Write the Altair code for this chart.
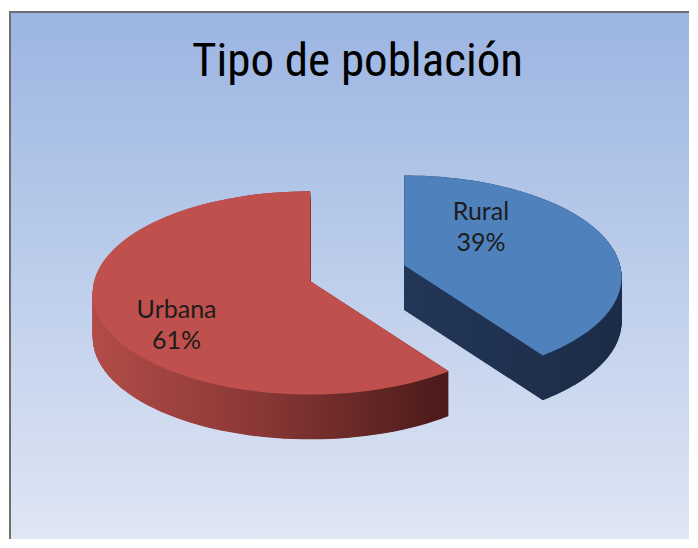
import altair as alt
import pandas as pd

# ---------------- data ----------------
tipos = ["Rural", "Urbana"]
porcentajes = [39, 61]
orden = [0, 1]
titulo = "Tipo de población"

# ---------------- layout / style constants ----------------
W, H = 682, 532            # whole chart (page is 698x548 with 8px margin)
PAD_TOP = 2
VW, VH = W, H - PAD_TOP    # plot (view) size, 1 scale unit = 1 px
CX, CY = 302, 283          # centre of the pie ellipse (view px)
RX, RY = 218, 102          # ellipse radii
APEX = 12                  # perspective: apex sits above ellipse centre
DEPTH = 45                 # thickness of the 3-D pie
N = 90                     # arc segments per slice
EXPLOSION = {"Rural": 0.46, "Urbana": 0.0}
LABEL_R = 0.653
LABEL_NUDGE = {"Rural": (-57, -35), "Urbana": (0, 3)}
TOP_COLOR = {"Rural": "#4f81bd", "Urbana": "#c0504d"}
SIDE_COLOR = {
    "Rural": alt.LinearGradient(
        gradient="linear", x1=0, x2=1, y1=0, y2=0,
        stops=[alt.GradientStop(color="#223657", offset=0),
               alt.GradientStop(color="#1c2c47", offset=1)]),
    "Urbana": alt.LinearGradient(
        gradient="linear", x1=0, x2=1, y1=0, y2=0,
        stops=[alt.GradientStop(color="#b24c48", offset=0),
               alt.GradientStop(color="#863634", offset=0.5),
               alt.GradientStop(color="#4a1a19", offset=1)]),
}
BG = alt.LinearGradient(
    gradient="linear", x1=0, x2=0, y1=0, y2=1,
    stops=[alt.GradientStop(color="#9bb5e2", offset=0),
           alt.GradientStop(color="#dfe6f4", offset=1)])
BORDER = "#6f6f6f"

datos = pd.DataFrame({"tipo": tipos, "valor": porcentajes, "orden": orden})

xs = alt.Scale(domain=[0, VW], nice=False, zero=False)
ys = alt.Scale(domain=[0, VH], nice=False, zero=False, reverse=True)


def por_tipo(mapping, default="0"):
    expr = default
    for k, v in mapping.items():
        expr = f"datum.tipo == '{k}' ? {v} : ({expr})"
    return expr


base = (
    alt.Chart(datos)
    .transform_joinaggregate(total="sum(valor)")
    .transform_window(acum="sum(valor)", sort=[alt.SortField("orden", order="ascending")])
    .transform_calculate(a0="2*PI*(datum.acum - datum.valor)/datum.total")
    .transform_calculate(a1="2*PI*datum.acum/datum.total")
    .transform_calculate(am="(datum.a0 + datum.a1)/2")
    .transform_calculate(expl=por_tipo(EXPLOSION))
    .transform_calculate(cx=f"{CX} + datum.expl*{RX}*sin(datum.am)")
    .transform_calculate(cy=f"{CY} - datum.expl*{RY}*cos(datum.am)")
)

poly = (
    base
    .transform_calculate(k=f"sequence(-1, {N + 1})")
    .transform_flatten(["k"])
    .transform_calculate(th=f"datum.a0 + (datum.a1 - datum.a0)*max(datum.k, 0)/{N}")
    .transform_calculate(px=f"datum.k < 0 ? datum.cx : datum.cx + {RX}*sin(datum.th)")
    .transform_calculate(py=f"datum.k < 0 ? datum.cy - {APEX} : datum.cy - {RY}*cos(datum.th)")
)

layers = []

# background and frame
one = alt.Data(values=[{}])
layers.append(
    alt.Chart(one).mark_rect(fill=BG).encode(
        x=alt.value(0), x2=alt.value("width"), y=alt.value(0), y2=alt.value("height"))
)
layers.append(
    alt.Chart(one).mark_rule(color=BORDER, strokeWidth=2).encode(
        x=alt.value(1), y=alt.value(0), y2=alt.value("height"))
)
layers.append(
    alt.Chart(one).mark_rule(color=BORDER, strokeWidth=2).encode(
        x=alt.value(0), x2=alt.value("width"), y=alt.value(1))
)

# 3-D sides (stack of shifted copies of each slice)
for t in tipos:
    layers.append(
        poly.transform_filter(f"datum.tipo == '{t}'")
        .transform_calculate(dz=f"sequence(0, {DEPTH + 0.01}, 0.5)")
        .transform_flatten(["dz"])
        .transform_calculate(pyd="datum.py + datum.dz")
        .mark_line(fill=SIDE_COLOR[t], stroke="transparent", strokeWidth=0)
        .encode(
            x=alt.X("px:Q", scale=xs, axis=None),
            y=alt.Y("pyd:Q", scale=ys, axis=None),
            order=alt.Order("k:Q"),
            detail="dz:Q",
        )
    )

# top faces
for t in tipos:
    layers.append(
        poly.transform_filter(f"datum.tipo == '{t}'")
        .mark_line(fill=TOP_COLOR[t], stroke="transparent", strokeWidth=0)
        .encode(
            x=alt.X("px:Q", scale=xs, axis=None),
            y=alt.Y("py:Q", scale=ys, axis=None),
            order=alt.Order("k:Q"),
        )
    )

# data labels
nx = {k: v[0] for k, v in LABEL_NUDGE.items()}
ny = {k: v[1] for k, v in LABEL_NUDGE.items()}
layers.append(
    base
    .transform_calculate(lx=f"datum.cx + {LABEL_R}*{RX}*sin(datum.am) + ({por_tipo(nx)})")
    .transform_calculate(ly=f"datum.cy - {LABEL_R}*{RY}*cos(datum.am) + ({por_tipo(ny)})")
    .transform_calculate(etiqueta="datum.tipo + '\\n' + datum.valor + '%'")
    .mark_text(font="Lato", fontSize=25, color="#1c1c1c", lineBreak="\n",
               lineHeight=31, align="center", baseline="alphabetic")
    .encode(
        x=alt.X("lx:Q", scale=xs, axis=None),
        y=alt.Y("ly:Q", scale=ys, axis=None),
        text="etiqueta:N",
    )
)

# title
layers.append(
    alt.Chart(alt.Data(values=[{"t": titulo}]))
    .mark_text(font="Roboto Condensed, Liberation Sans Narrow, DejaVu Sans Condensed, sans-serif",
               fontSize=47, color="#000000", align="center", baseline="alphabetic")
    .encode(x=alt.value(348.5), y=alt.value(65), text="t:N")
)

chart = (
    alt.layer(*layers)
    .properties(
        width=W, height=H,
        autosize=alt.AutoSizeParams(type="fit", contains="padding"),
        padding={"left": 0, "top": PAD_TOP, "right": 0, "bottom": 0},
    )
    .configure_view(stroke="transparent", strokeWidth=0)
)

chart.save("out.html", embed_options={"renderer": "svg", "actions": False})
